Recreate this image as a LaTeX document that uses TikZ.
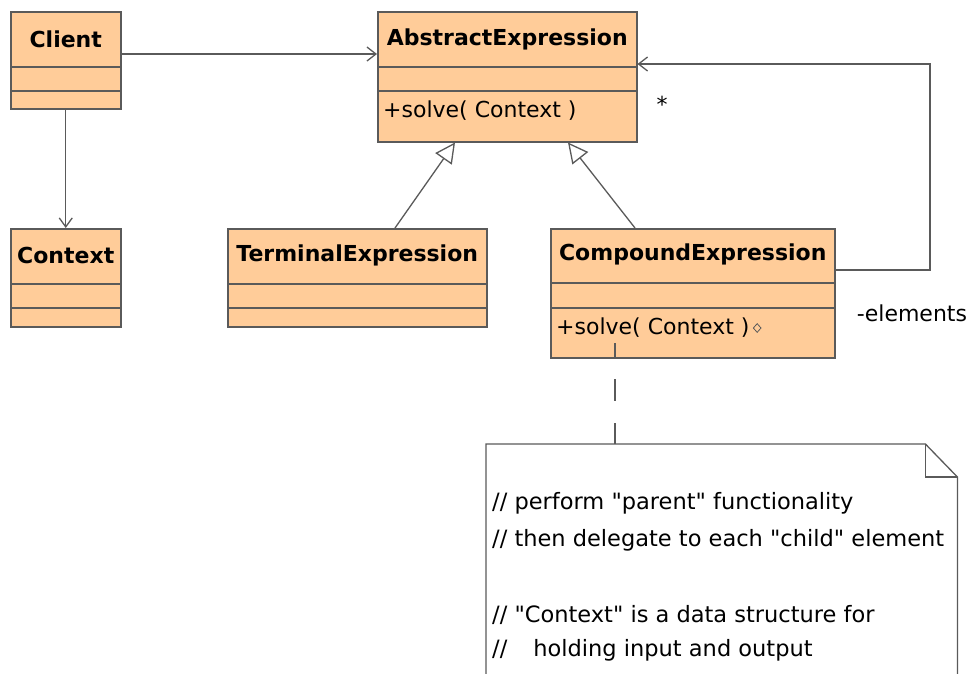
\documentclass[tikz,border=0pt]{standalone}
\usepackage{fontspec}
\setmainfont{DejaVu Sans}[Ligatures=TeXOff]
\usepackage{xcolor}
\usepackage{tikz}
\usetikzlibrary{arrows.meta,positioning,shapes.geometric}

\definecolor{classfill}{HTML}{FFCC99}
\definecolor{classline}{HTML}{5A5A5A}

\begin{document}
\begin{tikzpicture}[x=1pt,y=-1pt,
  classbox/.style={draw=classline, fill=classfill, line width=1.5pt, inner sep=0pt, anchor=north west},
  classname/.style={font=\bfseries\fontsize{22}{26}\selectfont, inner sep=0pt},
  member/.style={font=\fontsize{22}{26}\selectfont, inner sep=0pt, anchor=west},
  link/.style={draw=classline, line width=1.3pt}]
  \useasboundingbox[fill=white] (0,0) rectangle (974,673);

  % classes
  \node[classbox, minimum width=110pt, minimum height=97pt]  (client)   at (10,11)   {};
  \node[classbox, minimum width=259pt, minimum height=130pt] (abstract) at (377,11)  {};
  \node[classbox, minimum width=110pt, minimum height=98pt]  (context)  at (10,228)  {};
  \node[classbox, minimum width=259pt, minimum height=98pt]  (terminal) at (227,228) {};
  \node[classbox, minimum width=284pt, minimum height=129pt] (compound) at (550,228) {};

  \foreach \n/\ya/\yb in {client/67/91, abstract/67/91, context/284/308, terminal/284/308, compound/283/308} {
    \draw[classline, line width=1.5pt] (\n.west |- 0,\ya) -- (\n.east |- 0,\ya);
    \draw[classline, line width=1.5pt] (\n.west |- 0,\yb) -- (\n.east |- 0,\yb);
  }

  \node[classname] (client-name)   at (client.north |- 0,39)    {Client};
  \node[classname] (abstract-name) at (abstract.north |- 0,39)  {AbstractExpression};
  \node[classname] (context-name)  at (context.north |- 0,255)  {Context};
  \node[classname] (terminal-name) at (terminal.north |- 0,255) {TerminalExpression};
  \node[classname] (compound-name) at (compound.north |- 0,254) {CompoundExpression};

  \node[member] (abstract-op) at (383,111) {+solve( Context )};
  \node[member] (compound-op) at (556,328) {+solve( Context )};
  \node[diamond, draw=classline, fill=classfill, line width=0.8pt, inner sep=0pt,
        minimum width=8pt, minimum height=9pt, right=3pt of compound-op] (compound-mark) {};

  % associations
  \draw[link, -{Straight Barb[length=9pt,width=14pt]}] (client.east |- 0,54) -- (abstract.west |- 0,54);
  \draw[link, -{Straight Barb[length=9pt,width=13pt]}] (client.south) -- (context.north);

  \coordinate (loop-low)  at (930,270);
  \coordinate (loop-high) at (930,64);
  \draw[link, -{Straight Barb[length=9pt,width=14pt]}]
    (compound.east |- loop-low) -- (loop-low) -- (loop-high) -- (abstract.east |- loop-high);
  \node[font=\fontsize{22}{26}\selectfont, inner sep=0pt] (mult-star) at (662,104) {*};
  \node[font=\fontsize{22}{26}\selectfont, inner sep=0pt] (role-elements) at (912,313) {-elements};

  % generalizations
  \draw[link, -{Triangle[open, length=20pt, width=20pt]}] (terminal.north -| 395,0) -- (abstract.south -| 455,0);
  \draw[link, -{Triangle[open, length=20pt, width=20pt]}] (compound.north -| 635,0) -- (abstract.south -| 568,0);

  % note
  \node[anchor=north west, inner sep=0pt, minimum width=471pt, minimum height=250pt] (note) at (486,444) {};
  \draw[link, fill=white] (note.north west) -- ([xshift=-32pt]note.north east) -- ([yshift=-33pt]note.north east)
    -- (note.south east) -- (note.south west) -- cycle;
  \draw[link] ([xshift=-32pt]note.north east) -- ([xshift=-32pt,yshift=-33pt]note.north east) -- ([yshift=-33pt]note.north east);
  \coordinate (note-anchor) at (615,343);
  \draw[link, dash pattern=on 22pt off 22pt, dash phase=8pt] (note-anchor) -- (note.north -| note-anchor);

  \foreach \y/\txt in {503/{// perform "parent" functionality},
                       540/{// then delegate to each "child" element},
                       615/{// "Context" is a data structure for},
                       650/{//\hspace{26pt}holding input and output}}
    \node[member, font=\fontsize{22.5}{26}\selectfont] (note-\y) at (492,\y) {\txt};
\end{tikzpicture}
\end{document}
